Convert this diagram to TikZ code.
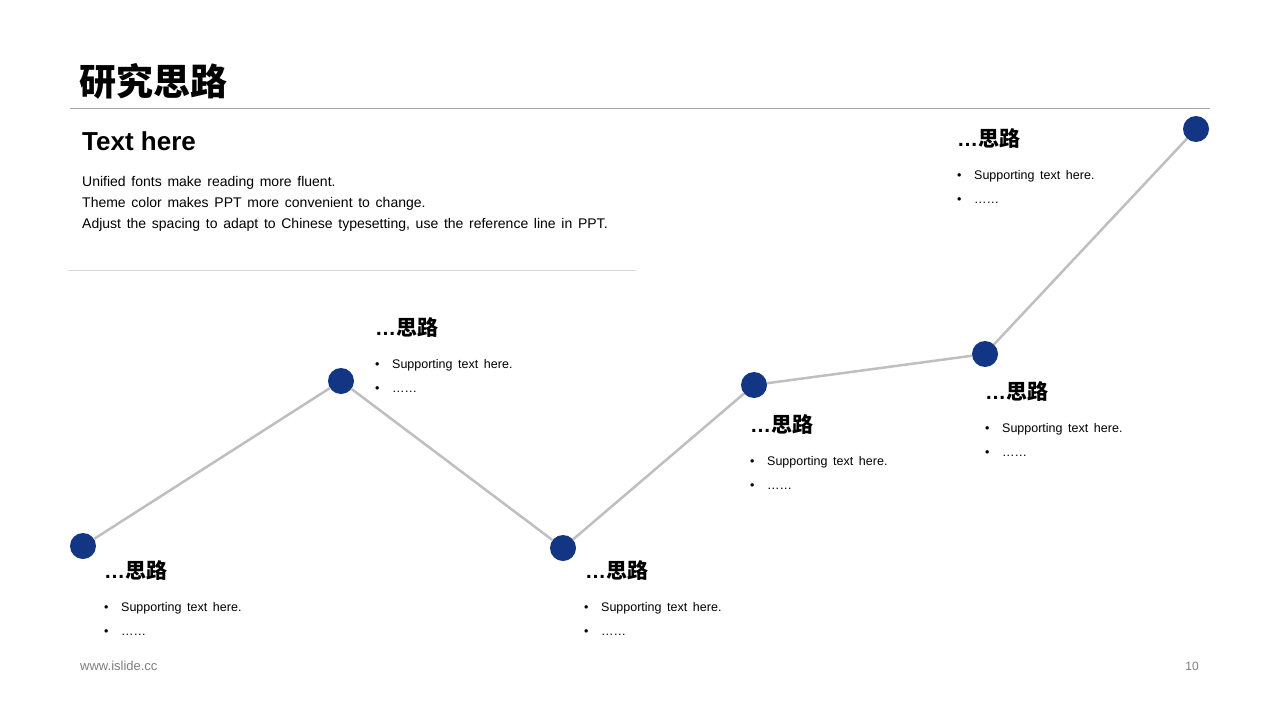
\documentclass[tikz,border=0pt]{standalone}
\usepackage{fontspec}
\setmainfont{Liberation Sans}
\newfontfamily\cjk{Noto Sans CJK SC}
\usepackage{tikz}
\usetikzlibrary{positioning}

\definecolor{dotblue}{HTML}{133684}
\definecolor{linegray}{HTML}{BFBFBF}
\definecolor{rulegray}{HTML}{A6A6A6}
\definecolor{footgray}{HTML}{7F7F7F}

\newcommand{\hd}{\ldots\cjk 思路}
\newcommand{\wsp}[1]{\spaceskip=#1 plus 1pt\relax}
\newcommand{\itm}[1]{\wsp{5.6pt}\makebox[17pt][l]{\textbullet}#1}

\begin{document}
\begin{tikzpicture}
  [
      x=1pt, y=-1pt,
      my dot/.style={circle, fill=dotblue, minimum width=26pt, inner sep=0pt},
      head/.style={anchor=west, inner sep=0pt, font=\fontsize{21}{25}\selectfont\bfseries},
      item/.style={anchor=west, inner sep=0pt, font=\fontsize{12.5}{15}\selectfont},
      body/.style={anchor=west, inner sep=0pt, font=\fontsize{14}{21}\selectfont, align=left},
    ]

    \useasboundingbox[fill=white] (0,0) rectangle (1280,720);

    % title
    \node (title) [anchor=south west, inner sep=0pt, font=\fontsize{37}{40}\selectfont\bfseries\cjk] at (79,100) {研究思路};
    \draw [rulegray, line width=1pt] (70,108) -- (1210,108);

    \node (texthere) [anchor=base west, inner sep=0pt, font=\fontsize{26}{30}\selectfont\bfseries] at (82,150) {Text here};
    \node (intro) [body, anchor=north west] at (82,176) {\wsp{5.7pt}Unified fonts make reading more fluent.\\
      \wsp{5.7pt}Theme color makes PPT more convenient to change.\\
      \wsp{5.7pt}Adjust the spacing to adapt to Chinese typesetting, use the reference line in PPT.};
    \draw [linegray!60, line width=1pt] (68,270) -- (636,270);

    % points
    \node (p1) [my dot] at (83,546) {};
    \node (p2) [my dot] at (341,381) {};
    \node (p3) [my dot] at (563,548) {};
    \node (p4) [my dot] at (754,385) {};
    \node (p5) [my dot] at (985,354) {};
    \node (p6) [my dot] at (1196,129) {};

    \draw [linegray, line width=2.5pt] (p1) -- (p2) -- (p3) -- (p4) -- (p5) -- (p6);

    % labels
    \node (h1) [head] at (104,570) {\hd};
    \node (a1) [item] at (104,608) {\itm{Supporting text here.}};
    \node (b1) [item] at (104,633) {\itm{\ldots\ldots}};

    \node (h2) [head] at (375,327) {\hd};
    \node (a2) [item] at (375,365) {\itm{Supporting text here.}};
    \node (b2) [item] at (375,390) {\itm{\ldots\ldots}};

    \node (h3) [head] at (585,570) {\hd};
    \node (a3) [item] at (584,608) {\itm{Supporting text here.}};
    \node (b3) [item] at (584,633) {\itm{\ldots\ldots}};

    \node (h4) [head] at (750,424) {\hd};
    \node (a4) [item] at (750,462) {\itm{Supporting text here.}};
    \node (b4) [item] at (750,487) {\itm{\ldots\ldots}};

    \node (h5) [head] at (985,391) {\hd};
    \node (a5) [item] at (985,429) {\itm{Supporting text here.}};
    \node (b5) [item] at (985,454) {\itm{\ldots\ldots}};

    \node (h6) [head] at (957,138) {\hd};
    \node (a6) [item] at (957,176) {\itm{Supporting text here.}};
    \node (b6) [item] at (957,201) {\itm{\ldots\ldots}};

    % footer
    \node (site) [anchor=west, inner sep=0pt, text=footgray, font=\fontsize{13}{15}\selectfont] at (80,666) {www.islide.cc};
    \node (page) [anchor=east, inner sep=0pt, text=footgray, font=\fontsize{12}{14}\selectfont] at (1199,666) {10};

  \end{tikzpicture}
\end{document}
